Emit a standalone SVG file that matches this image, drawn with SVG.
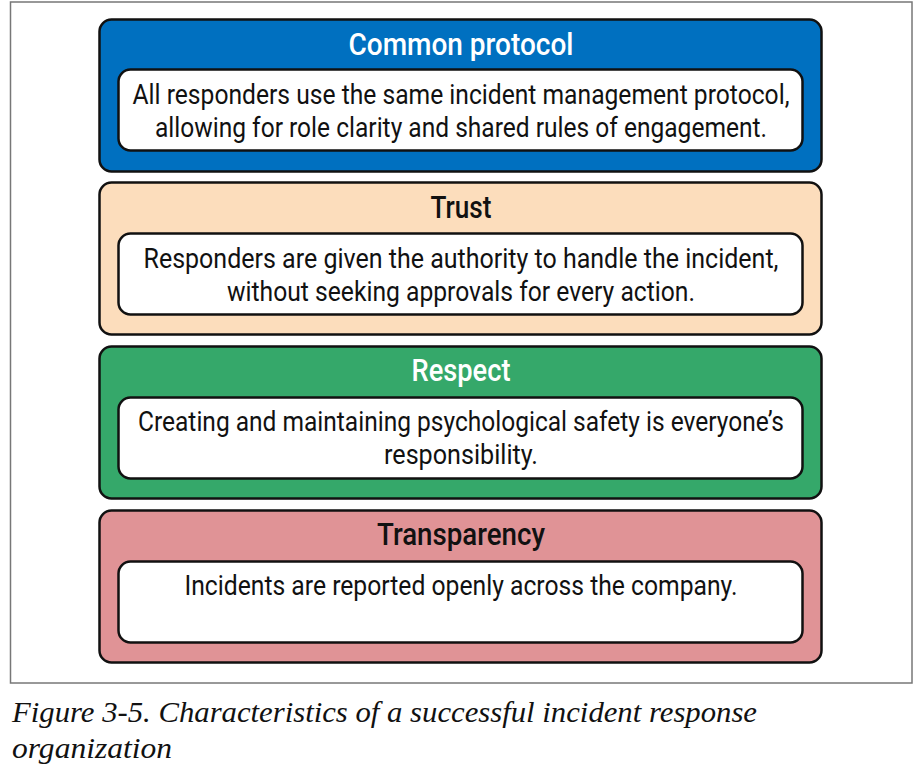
<svg xmlns="http://www.w3.org/2000/svg" width="920" height="778" viewBox="0 0 920 778">
<style>
.outer{stroke:#111;stroke-width:2.5}
.inner{fill:#fff;stroke:#111;stroke-width:2.5}
.title{font-family:Roboto,"Liberation Sans",sans-serif;font-weight:500;font-size:32px;text-anchor:middle}
.body{font-family:Roboto,"Liberation Sans",sans-serif;font-size:28px;fill:#111;text-anchor:middle}
.cap{font-family:"Liberation Serif",serif;font-style:italic;font-size:30px;fill:#111}
</style>
<rect x="0" y="0" width="920" height="778" fill="#fff"/>
<rect x="10.5" y="2" width="901.5" height="681" fill="#fff" stroke="#777" stroke-width="1.5"/>
<g id="common-protocol">
<rect class="outer" x="99.5" y="19.5" width="722" height="152" rx="12" fill="#0070C0"/>
<text class="title" x="461" y="55" fill="#fff" textLength="225" lengthAdjust="spacingAndGlyphs">Common protocol</text>
<rect class="inner" x="118.5" y="69.5" width="684" height="81" rx="12"/>
<text class="body" x="461" y="104" textLength="657" lengthAdjust="spacingAndGlyphs">All responders use the same incident management protocol,</text>
<text class="body" x="461" y="137" textLength="612" lengthAdjust="spacingAndGlyphs">allowing for role clarity and shared rules of engagement.</text>
</g>
<g id="trust">
<rect class="outer" x="99.5" y="182.5" width="722" height="152" rx="12" fill="#FCDDBC"/>
<text class="title" x="461" y="218" fill="#111" textLength="61" lengthAdjust="spacingAndGlyphs">Trust</text>
<rect class="inner" x="118.5" y="233.5" width="684" height="81" rx="12"/>
<text class="body" x="461" y="268" textLength="635" lengthAdjust="spacingAndGlyphs">Responders are given the authority to handle the incident,</text>
<text class="body" x="461" y="301" textLength="468" lengthAdjust="spacingAndGlyphs">without seeking approvals for every action.</text>
</g>
<g id="respect">
<rect class="outer" x="99.5" y="346.5" width="722" height="152" rx="12" fill="#35A86A"/>
<text class="title" x="461" y="381" fill="#fff" textLength="99" lengthAdjust="spacingAndGlyphs">Respect</text>
<rect class="inner" x="118.5" y="397.5" width="684" height="81" rx="12"/>
<text class="body" x="461" y="431" textLength="646" lengthAdjust="spacingAndGlyphs">Creating and maintaining psychological safety is everyone’s</text>
<text class="body" x="461" y="464" textLength="154" lengthAdjust="spacingAndGlyphs">responsibility.</text>
</g>
<g id="transparency">
<rect class="outer" x="99.5" y="510.5" width="722" height="152" rx="12" fill="#E09396"/>
<text class="title" x="461" y="545" fill="#111" textLength="168" lengthAdjust="spacingAndGlyphs">Transparency</text>
<rect class="inner" x="118.5" y="561.5" width="684" height="81" rx="12"/>
<text class="body" x="461" y="595" textLength="553" lengthAdjust="spacingAndGlyphs">Incidents are reported openly across the company.</text>
</g>
<g id="connectors"></g>
<text class="cap" x="12" y="722" textLength="745" lengthAdjust="spacingAndGlyphs">Figure 3-5. Characteristics of a successful incident response</text>
<text class="cap" x="12" y="758" textLength="160" lengthAdjust="spacingAndGlyphs">organization</text>
</svg>
